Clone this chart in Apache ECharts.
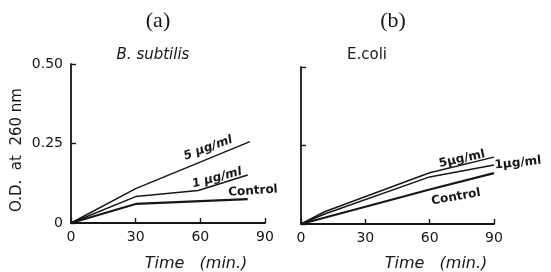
<!DOCTYPE html>
<html>
<head>
<meta charset="utf-8">
<script src="https://cdn.jsdelivr.net/npm/echarts@6/dist/echarts.min.js"></script>
<style>
  html, body { margin: 0; padding: 0; background: #fff; }
  #chart { width: 551px; height: 272px; }
</style>
</head>
<body>
<div id="chart"></div>
<script>
// panel (a) B. subtilis
var timeA5 = [0, 30, 83];
var odA5 = [0, 0.108, 0.256];
var timeA1 = [0, 30, 59, 82];
var odA1 = [0, 0.083, 0.102, 0.151];
var timeAC = [0, 30, 82];
var odAC = [0, 0.06, 0.075];
// panel (b) E.coli
var timeB5 = [0, 11, 60, 90];
var odB5 = [0, 0.039, 0.163, 0.213];
var timeB1 = [0, 11, 60, 90];
var odB1 = [0, 0.032, 0.150, 0.188];
var timeBC = [0, 60, 90];
var odBC = [0, 0.11, 0.162];
// ticks
var xTicks = [0, 30, 60, 90];
var yTickLabels = { '0': '0', '0.25': '0.25', '0.5': '0.50' };

function pairs(xs, ys) {
  var out = [];
  for (var i = 0; i < xs.length; i++) out.push([xs[i], ys[i]]);
  return out;
}

var ink = '#161616';
var sans = 'DejaVu Sans';

function xAxisOf(idx) {
  return {
    type: 'value', gridIndex: idx, min: xTicks[0], max: xTicks[xTicks.length - 1], interval: 30,
    axisLine: { lineStyle: { color: ink, width: 1.8 } },
    axisTick: { inside: true, length: 5, lineStyle: { color: ink, width: 1.4 } },
    axisLabel: { color: ink, fontFamily: sans, fontSize: 14, margin: 7 },
    splitLine: { show: false }
  };
}
function yAxisOf(idx, showLabels) {
  return {
    type: 'value', gridIndex: idx, min: 0, max: 0.5, interval: 0.25,
    axisLine: { lineStyle: { color: ink, width: 1.8 } },
    axisTick: { inside: true, length: 5, lineStyle: { color: ink, width: 1.4 } },
    axisLabel: {
      show: showLabels, color: ink, fontFamily: sans, fontSize: 14, margin: 8,
      formatter: function (v) { return yTickLabels[String(v)]; }
    },
    splitLine: { show: false }
  };
}
function lineOf(idx, data, w) {
  return {
    type: 'line', xAxisIndex: idx, yAxisIndex: idx, data: data,
    symbol: 'none', silent: true, animation: false,
    lineStyle: { color: ink, width: w }
  };
}
function txt(x, y, s, opt) {
  opt = opt || {};
  return {
    type: 'text', x: x, y: y, rotation: (opt.rot || 0) * Math.PI / 180,
    style: {
      text: s, fill: ink, align: 'center', verticalAlign: 'middle',
      font: (opt.style || 'normal') + ' ' + (opt.weight || 'normal') + ' ' + (opt.size || 14) + 'px ' + (opt.family || sans)
    }
  };
}

var chart = echarts.init(document.getElementById('chart'));
chart.setOption({
  backgroundColor: '#fff',
  animation: false,
  grid: [
    { left: 71, top: 64, width: 194, height: 159 },
    { left: 301, top: 67, width: 193, height: 157 }
  ],
  xAxis: [xAxisOf(0), xAxisOf(1)],
  yAxis: [yAxisOf(0, true), yAxisOf(1, false)],
  series: [
    lineOf(0, pairs(timeA5, odA5), 1.5),
    lineOf(0, pairs(timeA1, odA1), 1.5),
    lineOf(0, pairs(timeAC, odAC), 2.1),
    lineOf(1, pairs(timeB5, odB5), 1.5),
    lineOf(1, pairs(timeB1, odB1), 1.5),
    lineOf(1, pairs(timeBC, odBC), 2.1)
  ],
  graphic: [
    txt(158, 21, '(a)', { size: 22, family: 'Liberation Serif' }),
    txt(393, 21, '(b)', { size: 22, family: 'Liberation Serif' }),
    txt(153, 55, 'B. subtilis', { size: 15, style: 'italic' }),
    txt(367, 55, 'E.coli', { size: 15 }),
    txt(17, 150, 'O.D.  at  260 nm', { size: 15, rot: 90 }),
    txt(196, 264, 'Time   (min.)', { size: 16, style: 'italic' }),
    txt(436, 264, 'Time   (min.)', { size: 16, style: 'italic' }),
    txt(208, 148, '5 µg/ml', { size: 12, weight: 'bold', style: 'italic', rot: 20 }),
    txt(217, 178, '1 µg/ml', { size: 12, weight: 'bold', style: 'italic', rot: 15 }),
    txt(253, 191, 'Control', { size: 12, weight: 'bold', rot: 4 }),
    txt(462, 159, '5µg/ml', { size: 12, weight: 'bold', rot: 12 }),
    txt(518, 163, '1µg/ml', { size: 12, weight: 'bold', rot: 6 }),
    txt(456, 197, 'Control', { size: 12, weight: 'bold', rot: 10 })
  ]
});
</script>
</body>
</html>
